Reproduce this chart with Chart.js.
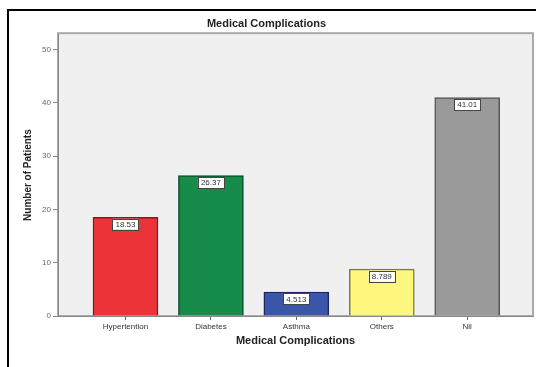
<!DOCTYPE html>
<html>
<head>
<meta charset="utf-8">
<script src="https://cdn.jsdelivr.net/npm/chart.js@4"></script>
<style>
  html, body { margin: 0; padding: 0; background: #fff; }
  #wrap { width: 536px; height: 367px; }
</style>
</head>
<body>
<div id="wrap"><canvas id="graf" width="536" height="367"></canvas></div>
<script>
// kategorier och värden
const categories = ["Hypertention", "Diabetes", "Asthma", "Others", "Nil"];
const values = [18.53, 26.37, 4.513, 8.789, 41.01];
const valueLabels = ["18.53", "26.37", "4.513", "8.789", "41.01"];
const yTicks = [0, 10, 20, 30, 40, 50];

const fillColors = ["#ec3338", "#178c4a", "#3b56a8", "#fdf77e", "#9a9a9a"];
const lineColors = ["#7a1c1f", "#0b4f28", "#1b2760", "#7d7a4a", "#555555"];

const fontFam = "'Liberation Sans', Arial, sans-serif";

// ram runt hela bilden + grå plotyta
const bakgrund = {
  id: "bakgrund",
  beforeDraw(chart) {
    const c = chart.ctx;
    const a = chart.chartArea;
    c.save();
    c.fillStyle = "#fff";
    c.fillRect(0, 0, chart.width, chart.height);
    c.strokeStyle = "#000";
    c.lineWidth = 2;
    c.beginPath();
    c.moveTo(8, chart.height);
    c.lineTo(8, 10);
    c.lineTo(chart.width, 10);
    c.stroke();
    c.fillStyle = "#f0f0f0";
    c.fillRect(a.left, a.top, a.right - a.left, a.bottom - a.top);
    c.strokeStyle = "#aaaaaa";
    c.lineWidth = 2;
    c.strokeRect(a.left, a.top - 1, a.right - a.left, a.bottom - a.top + 1);
    c.restore();
  }
};

// vita rutor med värdet överst i varje stapel
const etiketter = {
  id: "etiketter",
  afterDatasetsDraw(chart) {
    const c = chart.ctx;
    const meta = chart.getDatasetMeta(0);
    c.save();
    c.font = "8px " + fontFam;
    c.textAlign = "center";
    c.textBaseline = "middle";
    meta.data.forEach((bar, i) => {
      const txt = valueLabels[i];
      const w = c.measureText(txt).width + 6;
      const h = 11;
      const x = bar.x - w / 2;
      const y = bar.y + 1.5;
      c.fillStyle = "#fff";
      c.fillRect(x, y, w, h);
      c.strokeStyle = "#444";
      c.lineWidth = 1;
      c.strokeRect(Math.round(x) + 0.5, Math.round(y) + 0.5, Math.round(w), h);
      c.fillStyle = "#333";
      c.fillText(txt, bar.x, y + h / 2 + 0.5);
    });
    c.restore();
  }
};

const ctx = document.getElementById("graf").getContext("2d");

new Chart(ctx, {
  type: "bar",
  data: {
    datasets: [{
      data: values.map((v, i) => ({ x: i, y: v })),
      backgroundColor: fillColors,
      borderColor: lineColors,
      borderWidth: 1.5,
      barThickness: 65
    }]
  },
  options: {
    responsive: false,
    animation: false,
    layout: { padding: { left: 0, right: 3, top: 0, bottom: 0 } },
    plugins: {
      legend: { display: false },
      tooltip: { enabled: false },
      title: {
        display: true,
        text: "Medical Complications",
        color: "#222",
        font: { family: fontFam, size: 11, weight: "bold" },
        padding: { top: 17, bottom: 4 }
      }
    },
    scales: {
      x: {
        type: "linear",
        min: -0.79,
        max: 4.77,
        offset: false,
        afterFit: s => { s.height = 51; },
        border: { color: "#888", width: 1 },
        grid: { offset: false, drawOnChartArea: false, tickLength: 4, color: "#666" },
        ticks: {
          stepSize: 1,
          includeBounds: false,
          autoSkip: false,
          maxRotation: 0,
          padding: 2,
          color: "#333",
          font: { family: fontFam, size: 8 },
          callback: v => categories[v] ?? ""
        },
        title: {
          display: true,
          text: "Medical Complications",
          color: "#222",
          font: { family: fontFam, size: 11, weight: "bold" },
          padding: { top: 0, bottom: 19 }
        }
      },
      y: {
        min: 0,
        max: 52.9,
        afterFit: s => { s.width = 58; },
        afterBuildTicks: s => { s.ticks = yTicks.map(v => ({ value: v })); },
        border: { color: "#888", width: 1 },
        grid: { drawOnChartArea: false, tickLength: 5, color: "#888" },
        ticks: {
          includeBounds: false,
          padding: 2,
          color: "#666",
          font: { family: fontFam, size: 8 }
        },
        title: {
          display: true,
          text: "Number of Patients",
          color: "#222",
          font: { family: fontFam, size: 10, weight: "bold" },
          padding: { top: 22, bottom: 0 }
        }
      }
    }
  },
  plugins: [bakgrund, etiketter]
});
</script>
</body>
</html>
